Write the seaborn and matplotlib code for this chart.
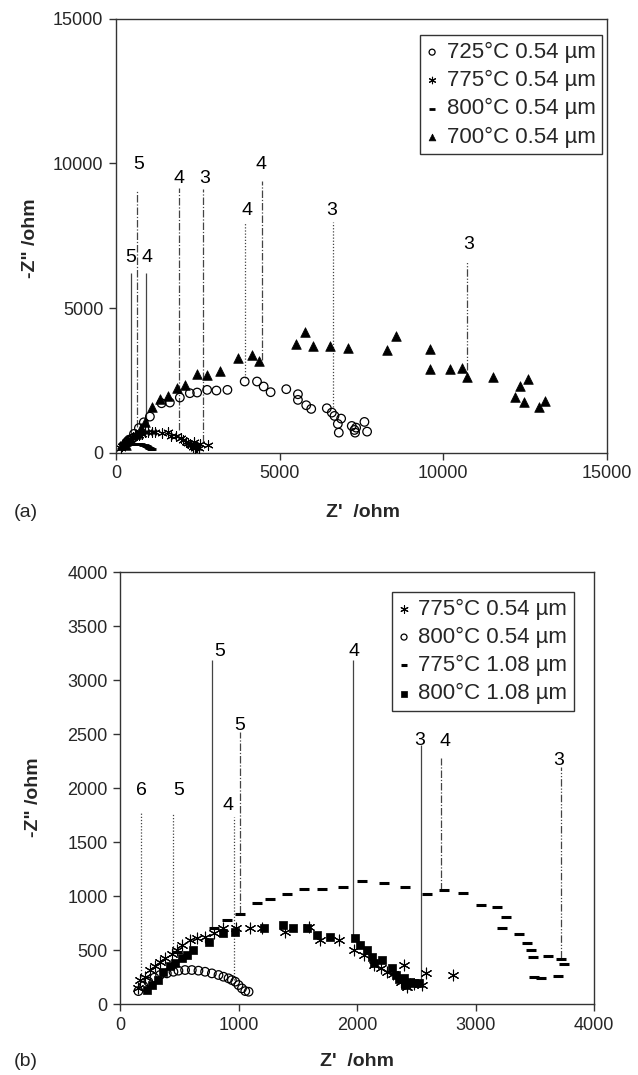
import matplotlib
matplotlib.use('Agg')
import matplotlib.pyplot as plt
import seaborn as sns

# ---------------- data ----------------
# panel (a)
t725_x = [250, 400, 550, 700, 850, 1036, 1392, 1646, 1951, 2256, 2479, 2784, 3068, 3404, 3932, 4308, 4511, 4724,
          5202, 5558, 5558, 5812, 5964, 6441, 6594, 6675, 6777, 6878, 6807, 7203, 7285, 7336, 7305, 7590, 7671]
t725_y = [250, 450, 650, 850, 1050, 1247, 1709, 1733, 1906, 2056, 2079, 2171, 2148, 2171, 2460, 2460, 2287, 2091,
          2195, 2021, 1825, 1640, 1513, 1536, 1386, 1271, 993, 1178, 693, 924, 785, 866, 693, 1063, 728]

t700_x = [300, 450, 600, 750, 900, 1087, 1341, 1595, 1849, 2103, 2479, 2794, 3170, 3729, 4166, 4359, 5486, 5761,
          6015, 6523, 7082, 8273, 8558, 9594, 9594, 10204, 10560, 10712, 11525, 12186, 12338, 12470, 12572,
          12928, 13111]
t700_y = [250, 450, 650, 850, 1050, 1594, 1848, 1975, 2252, 2345, 2726, 2668, 2807, 3257, 3373, 3165, 3765, 4170,
          3673, 3696, 3615, 3548, 4032, 3583, 2903, 2903, 2938, 2604, 2604, 1936, 2316, 1752, 2546,
          1590, 1786]

# 775 C 0.54 um (shared by both panels)
a775_x = [150, 169, 211, 254, 296, 338, 380, 437, 479, 521, 592, 648, 718, 789, 873, 978, 1099, 1198, 1394, 1592,
          1690, 1845, 1972, 2056, 2141, 2200, 2250, 2300, 2367, 2395, 2423, 2450, 2480, 2550, 2578, 2812]
a775_y = [150, 222, 253, 315, 352, 392, 423, 463, 500, 546, 593, 608, 623, 660, 701, 701, 701, 701, 670, 716,
          593, 593, 500, 454, 361, 330, 300, 280, 207, 361, 160, 190, 185, 176, 284, 269]

# 800 C 0.54 um (shared by both panels)
c800_x = [155, 197, 239, 290, 338, 395, 451, 493, 549, 606, 662, 718, 775, 831, 873, 916, 944, 972, 1000, 1029,
          1057, 1085]
c800_y = [120, 167, 207, 244, 269, 284, 299, 309, 315, 315, 309, 299, 284, 269, 253, 238, 222, 207, 176, 145,
          120, 114]

# panel (b) extra series
s800_x = [225, 268, 324, 366, 423, 465, 521, 564, 620, 747, 873, 972, 1212, 1375, 1459, 1578, 1662, 1775, 1986,
          2029, 2085, 2127, 2141, 2212, 2296, 2325, 2395, 2409, 2479, 2522, 2450, 2350]
s800_y = [130, 176, 222, 299, 352, 376, 423, 454, 500, 577, 654, 670, 701, 731, 707, 701, 639, 623, 608,
          546, 500, 438, 377, 407, 330, 269, 238, 176, 191, 191, 200, 230]

d775_x = [479, 789, 902, 1014, 1155, 1268, 1409, 1550, 1705, 1882, 2043, 2226, 2409, 2592, 2733, 2896, 3043,
          3178, 3254, 3226, 3367, 3438, 3466, 3485, 3615, 3719, 3747, 3494, 3550, 3700]
d775_y = [480, 701, 778, 830, 938, 969, 1015, 1069, 1063, 1084, 1136, 1117, 1086, 1018, 1056, 1025, 917,
          895, 809, 707, 645, 562, 500, 432, 444, 417, 370, 253, 244, 262]

# frequency-decade annotations
ann_a_x = [447, 650, 914, 1920, 2652, 3952, 4460, 6624, 10722]
ann_a_y0 = [650, 900, 1100, 785, 381, 2576, 3211, 1594, 2855]
ann_a_y1 = [6214, 9044, 6214, 9159, 9101, 7981, 9390, 7981, 6600]
ann_a_lab = ['5', '5', '4', '4', '3', '4', '4', '3', '3']
ann_a_lx = [450, 690, 960, 1920, 2700, 3990, 4420, 6580, 10773]
ann_a_ly = [6734, 9968, 6734, 9471, 9471, 8374, 9968, 8374, 7211]

ann_b_x = [177, 451, 780, 1014, 966, 1963, 2536, 2711, 3719]
ann_b_y0 = [222, 500, 701, 840, 222, 639, 222, 1056, 423]
ann_b_y1 = [1765, 1765, 3185, 2521, 1728, 3185, 2398, 2275, 2197]
ann_b_lab = ['6', '5', '5', '5', '4', '4', '3', '4', '3']
ann_b_lx = [183, 493, 845, 1008, 915, 1978, 2530, 2739, 3705]
ann_b_ly = [1981, 1981, 3268, 2583, 1842, 3268, 2444, 2429, 2259]

DOT = (0, (1, 1.5))
DASHDOT = (0, (6, 1.5, 1, 1.5))
DDOT = (0, (6, 1.5, 1, 1.5, 1, 1.5))
ann_a_style = ['-', DASHDOT, '-', DASHDOT, DASHDOT, DOT, DASHDOT, DOT, DDOT]
ann_b_style = [DOT, DOT, '-', DASHDOT, DOT, '-', '-', DASHDOT, DDOT]

# ---------------- style ----------------
sns.set_theme(style='white')
plt.rcParams['font.family'] = ['Liberation Sans', 'DejaVu Sans']

ASTER = (6, 2, 0)

fig = plt.figure(figsize=(6.38, 10.75), dpi=100)
ax1 = fig.add_axes([0.1818, 0.5789, 0.7696, 0.4037])
ax2 = fig.add_axes([0.1881, 0.066, 0.743, 0.4019])


def pts(ax, x, y, marker, s, lw, label, open_=False):
    sns.scatterplot(x=x, y=y, marker=marker, s=s, color='black', edgecolor='black',
                    linewidth=lw, ax=ax, label=label, legend=False, zorder=3)
    if open_:
        ax.collections[-1].set_facecolor('none')


def annotate(ax, xs, y0s, y1s, labs, lxs, lys, styles):
    for x, y0, y1, lab, lx, ly, st in zip(xs, y0s, y1s, labs, lxs, lys, styles):
        ax.vlines(x, y0, y1, colors='#444444', linewidth=0.9, linestyles=[st], zorder=2)
        ax.text(lx, ly, lab, ha='center', va='center', fontsize=14, color='black')


# panel (a)
annotate(ax1, ann_a_x, ann_a_y0, ann_a_y1, ann_a_lab, ann_a_lx, ann_a_ly, ann_a_style)
pts(ax1, t725_x, t725_y, 'o', 38, 0.9, '725\u00b0C 0.54 \u00b5m', open_=True)
pts(ax1, a775_x, a775_y, ASTER, 45, 0.8, '775\u00b0C 0.54 \u00b5m')
pts(ax1, c800_x, c800_y, '_', 40, 2.0, '800\u00b0C 0.54 \u00b5m')
pts(ax1, t700_x, t700_y, '^', 48, 0.5, '700\u00b0C 0.54 \u00b5m')

# panel (b)
annotate(ax2, ann_b_x, ann_b_y0, ann_b_y1, ann_b_lab, ann_b_lx, ann_b_ly, ann_b_style)
pts(ax2, a775_x, a775_y, ASTER, 60, 0.8, '775\u00b0C 0.54 \u00b5m')
pts(ax2, c800_x, c800_y, 'o', 38, 0.9, '800\u00b0C 0.54 \u00b5m', open_=True)
pts(ax2, d775_x, d775_y, '_', 50, 2.2, '775\u00b0C 1.08 \u00b5m')
pts(ax2, s800_x, s800_y, 's', 40, 0.5, '800\u00b0C 1.08 \u00b5m')

for ax, lim, anchor in [(ax1, 15000, (0.99, 0.962)), (ax2, 4000, (0.958, 0.954))]:
    ax.set_xlim(0, lim)
    ax.set_ylim(0, lim)
    for sp in ax.spines.values():
        sp.set_color('#333333')
        sp.set_linewidth(1.0)
    ax.tick_params(direction='out', length=5, width=1, color='#333333', labelsize=13,
                   bottom=True, left=True, pad=4)
    ax.set_xlabel('')
    ax.set_ylabel('')
    leg = ax.legend(loc='upper right', bbox_to_anchor=anchor, borderaxespad=0, fontsize=16,
                    frameon=True, fancybox=False, framealpha=1, edgecolor='#333333',
                    handlelength=0.5, handletextpad=0.4, borderpad=0.3, labelspacing=0.32,
                    markerscale=0.7)
    leg.get_frame().set_linewidth(1.0)

ax1.set_xticks([0, 5000, 10000, 15000])
ax1.set_yticks([0, 5000, 10000, 15000])
ax2.set_xticks([0, 1000, 2000, 3000, 4000])
ax2.set_yticks(list(range(0, 4001, 500)))

W, H = 638, 1075
fig.text(363 / W, 1 - 512 / H, "Z'  /ohm", ha='center', va='center', fontsize=14, fontweight='bold')
fig.text(357 / W, 1 - 1062 / H, "Z'  /ohm", ha='center', va='center', fontsize=14, fontweight='bold')
fig.text(26 / W, 1 - 512 / H, '(a)', ha='center', va='center', fontsize=14)
fig.text(26 / W, 1 - 1062 / H, '(b)', ha='center', va='center', fontsize=14)
fig.text(31 / W, 1 - 238 / H, '-Z" /ohm', ha='center', va='center', fontsize=14, fontweight='bold', rotation=90)
fig.text(33 / W, 1 - 797 / H, '-Z" /ohm', ha='center', va='center', fontsize=14, fontweight='bold', rotation=90)

fig.savefig('out.png', dpi=100)
